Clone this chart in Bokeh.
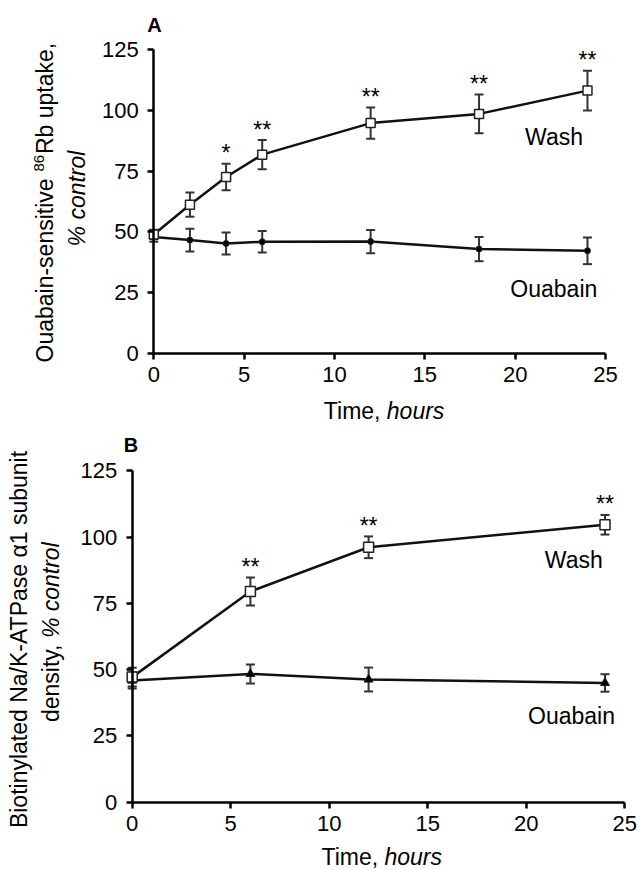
import math
from bokeh.plotting import figure
from bokeh.models import Range1d, Whisker, ColumnDataSource, Label, FixedTicker, TeeHead
from bokeh.layouts import column
from bokeh.embed import file_html
from bokeh.resources import INLINE
from bokeh.core.properties import value

# ---------------- data ----------------
a_time = [0, 2, 4, 6, 12, 18, 24]
a_wash = [48.9, 61.2, 72.6, 81.8, 94.8, 98.6, 108.2]
a_wash_err = [2.0, 5.0, 5.5, 6.0, 6.4, 8.0, 8.2]
a_ouab = [47.9, 46.6, 45.2, 45.9, 46.0, 42.9, 42.2]
a_ouab_err = [2.0, 4.7, 4.5, 4.4, 4.8, 5.0, 5.5]
a_sig = ["", "", "*", "**", "**", "**", "**"]

b_time = [0, 6, 12, 24]
b_wash = [47.2, 79.5, 96.2, 104.7]
b_wash_err = [3.5, 5.3, 4.1, 3.7]
b_ouab = [45.9, 48.4, 46.3, 45.0]
b_ouab_err = [3.0, 3.6, 4.5, 3.3]
b_sig = ["", "**", "**", "**"]

x_ticks = [0, 5, 10, 15, 20, 25]
y_ticks = [0, 25, 50, 75, 100, 125]

FONT = "Liberation Sans"
W = 639
SH = 8.5  # baseline correction for 23px text, px


def make_panel(H, x0c, xsc, y0c, ysc):
    # the frame spans the whole canvas; axes are pinned at x=0 / y=0
    xr = Range1d((0 - x0c) / xsc, (W - x0c) / xsc)
    yr = Range1d((y0c - H) / ysc, (y0c - 0) / ysc)
    p = figure(frame_width=W, frame_height=H,
               min_border_left=0, min_border_right=0,
               min_border_top=0, min_border_bottom=0,
               x_range=xr, y_range=yr, output_backend="svg",
               toolbar_location=None, tools="")
    p.outline_line_color = None
    p.xgrid.visible = False
    p.ygrid.visible = False
    for ax, ticks, bounds in ((p.xaxis[0], x_ticks, (0, 25)), (p.yaxis[0], y_ticks, (0, 125))):
        ax.fixed_location = 0
        ax.bounds = bounds
        ax.ticker = FixedTicker(ticks=ticks)
        ax.axis_line_width = 2.5
        ax.axis_line_color = "black"
        ax.major_tick_line_width = 2.5
        ax.major_tick_line_color = "black"
        ax.major_tick_out = 6
        ax.major_tick_in = 0
        ax.minor_tick_line_color = None
        ax.major_label_text_font = FONT
        ax.major_label_text_font_size = "22px"
        ax.major_label_text_color = "black"
    p.xaxis[0].major_label_standoff = 8
    p.yaxis[0].major_label_standoff = 9
    return p


def add_series(p, t, m, e, sig):
    src = ColumnDataSource(dict(t=t, m=m, lo=[a - b for a, b in zip(m, e)],
                                hi=[a + b for a, b in zip(m, e)], sig=sig))
    wh = Whisker(base="t", upper="hi", lower="lo", source=src,
                 line_color="#333333", line_width=2,
                 upper_head=TeeHead(size=9, line_width=2, line_color="#333333"),
                 lower_head=TeeHead(size=9, line_width=2, line_color="#333333"))
    p.add_layout(wh)
    p.line("t", "m", source=src, line_width=2.5, line_color="#111111")
    return src


def add_markers(p, src, marker, msize, fill, lw):
    p.scatter("t", "m", source=src, marker=marker, size=msize, fill_color=fill,
              line_color="#222222", line_width=lw)


def add_stars(p, src):
    p.text("t", "hi", text="sig", source=src, text_align="center",
           text_baseline="alphabetic", text_font=value(FONT),
           text_font_size="23px", text_color="black", y_offset=-2 - SH)


def lab(p, x, y, text, **kw):
    d = dict(text_font=FONT, text_font_size="23px", text_color="black",
             text_baseline="alphabetic")
    d.update(kw)
    p.add_layout(Label(x=x, y=y, text=text, **d))


UP = math.pi / 2

# ---------------- panel A ----------------
HA = 430
A = dict(x0c=153.3, xsc=18.07, y0c=352.7, ysc=2.427)
pa = make_panel(HA, A["x0c"], A["xsc"], A["y0c"], A["ysc"])
ax_ = lambda px: (px - A["x0c"]) / A["xsc"]
ay_ = lambda py: (A["y0c"] - py) / A["ysc"]

sa_o = add_series(pa, a_time, a_ouab, a_ouab_err, [""] * len(a_time))
sa_w = add_series(pa, a_time, a_wash, a_wash_err, a_sig)
add_markers(pa, sa_o, "circle", 6, "black", 1)
add_markers(pa, sa_w, "square", 9, "white", 1.5)
add_stars(pa, sa_w)

lab(pa, ax_(553.5), ay_(145 - SH), "Wash", text_align="center")
lab(pa, ax_(553.3), ay_(296.7 - SH), "Ouabain", text_align="center")
lab(pa, ax_(146.7), ay_(31.7 - 7.4), "A", text_font_style="bold", text_font_size="20px",
    text_align="left")
# rotated y label, line 1 in three pieces (superscript 86)
lab(pa, ax_(53 - SH), ay_(362.0), "Ouabain-sensitive", angle=UP, text_align="left")
lab(pa, ax_(44 - 5.5), ay_(171.0), "86", angle=UP, text_align="left", text_font_size="15px")
lab(pa, ax_(53 - SH), ay_(153.5), "Rb uptake,", angle=UP, text_align="left")
lab(pa, ax_(85 - SH), ay_(198.0), "% control", angle=UP, text_align="center",
    text_font_style="italic")
lab(pa, ax_(380.0), ay_(419 - SH), "Time,", text_align="right")
lab(pa, ax_(386.3), ay_(419 - SH), "hours", text_align="left", text_font_style="italic")

# ---------------- panel B ----------------
HB = 440
B = dict(x0c=131.7, xsc=19.7, y0c=371.7, ysc=2.65)
pb = make_panel(HB, B["x0c"], B["xsc"], B["y0c"], B["ysc"])
bx_ = lambda px: (px - B["x0c"]) / B["xsc"]
by_ = lambda py: (B["y0c"] - py) / B["ysc"]

sb_o = add_series(pb, b_time, b_ouab, b_ouab_err, [""] * len(b_time))
sb_w = add_series(pb, b_time, b_wash, b_wash_err, b_sig)
add_markers(pb, sb_o, "triangle", 9, "black", 1)
add_markers(pb, sb_w, "square", 10, "white", 1.5)
add_stars(pb, sb_w)

lab(pb, bx_(573.3), by_(138.3 - SH), "Wash", text_align="center")
lab(pb, bx_(571.0), by_(294.0 - SH), "Ouabain", text_align="center")
lab(pb, bx_(123.3), by_(21.7 - 7.4), "B", text_font_style="bold", text_font_size="20px",
    text_align="left")
lab(pb, bx_(27 - SH), by_(209), "Biotinylated Na/K-ATPase \u03b11 subunit",
    angle=UP, text_align="center")
lab(pb, bx_(58.5 - SH), by_(214), "density,", angle=UP, text_align="right")
lab(pb, bx_(58.5 - SH), by_(207.6), "% control", angle=UP, text_align="left",
    text_font_style="italic")
lab(pb, bx_(377.7), by_(435 - SH), "Time,", text_align="right")
lab(pb, bx_(384.0), by_(435 - SH), "hours", text_align="left", text_font_style="italic")

layout = column(pa, pb, spacing=0)
open("out.html", "w").write(file_html(layout, INLINE))
